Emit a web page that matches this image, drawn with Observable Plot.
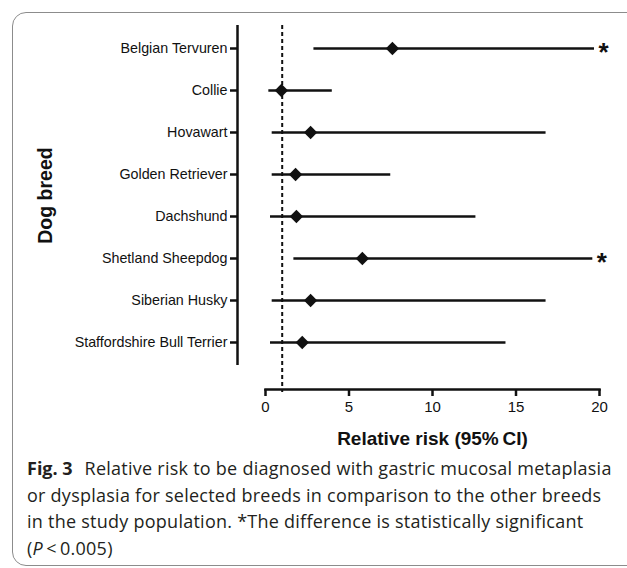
<!DOCTYPE html>
<html>
<head>
<meta charset="utf-8">
<script src="https://cdn.jsdelivr.net/npm/d3@7"></script>
<script src="https://cdn.jsdelivr.net/npm/@observablehq/plot@0.6"></script>
<style>
  html, body { margin: 0; padding: 0; background: #fff; }
  #wrap { position: relative; width: 627px; height: 568px; overflow: hidden; }
  #box { position: absolute; left: 12px; top: 12px; width: 660px; height: 552px;
         border: 1.5px solid #8c8c8c; border-radius: 14px; }
  #chart { position: absolute; left: 0; top: 0; }
  #caption { position: absolute; left: 27px; top: 455px; width: 600px;
             font-family: "Open Sans", sans-serif; font-size: 18px; letter-spacing: 0.25px;
             line-height: 26.7px; color: #231f20; white-space: nowrap; }
  #caption b { font-weight: 700; margin-right: 7px; letter-spacing: 0; }
</style>
</head>
<body>
<div id="wrap">
  <div id="box"></div>
  <div id="chart"></div>
  <div id="caption"></div>
</div>
<script>
const breeds = ["Belgian Tervuren", "Collie", "Hovawart", "Golden Retriever", "Dachshund",
                "Shetland Sheepdog", "Siberian Husky", "Staffordshire Bull Terrier"];
const estimates = [7.6, 0.95, 2.7, 1.8, 1.85, 5.8, 2.7, 2.2];
const lower = [2.9, 0.2, 0.4, 0.4, 0.3, 1.7, 0.4, 0.3];
const upper = [19.7, 4.0, 16.8, 7.5, 12.6, 19.6, 16.8, 14.4];
const significant = [true, false, false, false, false, true, false, false];
const xTicks = [0, 5, 10, 15, 20];
const referenceValue = [1];
const xTitle = "Relative risk (95%\u2009CI)";
const yTitle = "Dog breed";
const captionLabel = "Fig. 3";
const captionLines = [
  "Relative risk to be diagnosed with gastric mucosal metaplasia",
  "or dysplasia for selected breeds in comparison to the other breeds",
  "in the study population. *The difference is statistically significant",
  "(<i>P</i>\u2009<\u20090.005)"
];

const data = breeds.map((b, i) => ({breed: b, rr: estimates[i], lo: lower[i], hi: upper[i], sig: significant[i]}));

const chart = Plot.plot({
  width: 627,
  height: 455,
  marginLeft: 265,
  marginRight: 28,
  marginTop: 25,
  marginBottom: 66,
  style: {fontFamily: "'Liberation Sans', Arial, sans-serif", color: "#111", background: "transparent"},
  x: {domain: [0, 20]},
  y: {domain: breeds, type: "point", range: [25, 365], padding: 0.5},
  marks: [
    Plot.ruleX([0], {dx: -28, insetBottom: 24, strokeWidth: 2.5, stroke: "#111"}),
    Plot.ruleX(referenceValue, {strokeDasharray: "4,3", strokeWidth: 2, insetBottom: -3, stroke: "#111"}),
    Plot.ruleY(data, {y: "breed", x1: "lo", x2: "hi", strokeWidth: 2.5, stroke: "#111"}),
    Plot.dot(data, {x: "rr", y: "breed", symbol: "diamond2", r: 6, fill: "#111", stroke: null}),
    Plot.text(data.filter(d => d.sig), {x: "hi", y: "breed", text: () => "*", dx: 4, dy: 4,
      textAnchor: "start", fontSize: 26, fontWeight: "bold", fill: "#111"}),
    Plot.axisY({dx: -28, tickSize: 7, tickPadding: 3, fontSize: 14.3, strokeWidth: 2.5, label: null}),
    Plot.axisX({ticks: xTicks, tickSize: 7, tickPadding: 5, fontSize: 15, strokeWidth: 2.5, label: null}),
    Plot.frame({anchor: "bottom", strokeWidth: 2.5, stroke: "#111"}),
    Plot.text([yTitle], {frameAnchor: "left", textAnchor: "middle", lineAnchor: "middle", rotate: -90,
      dx: -220, dy: -12, fontSize: 19.5, fontWeight: "bold", fill: "#111"}),
    Plot.text([xTitle], {frameAnchor: "bottom", textAnchor: "middle", lineAnchor: "middle",
      dy: 49, fontSize: 19, fontWeight: "bold", fill: "#111"})
  ]
});
document.getElementById("chart").appendChild(chart);

document.getElementById("caption").innerHTML =
  "<b>" + captionLabel + "</b> " + captionLines.join("<br>");
</script>
</body>
</html>
